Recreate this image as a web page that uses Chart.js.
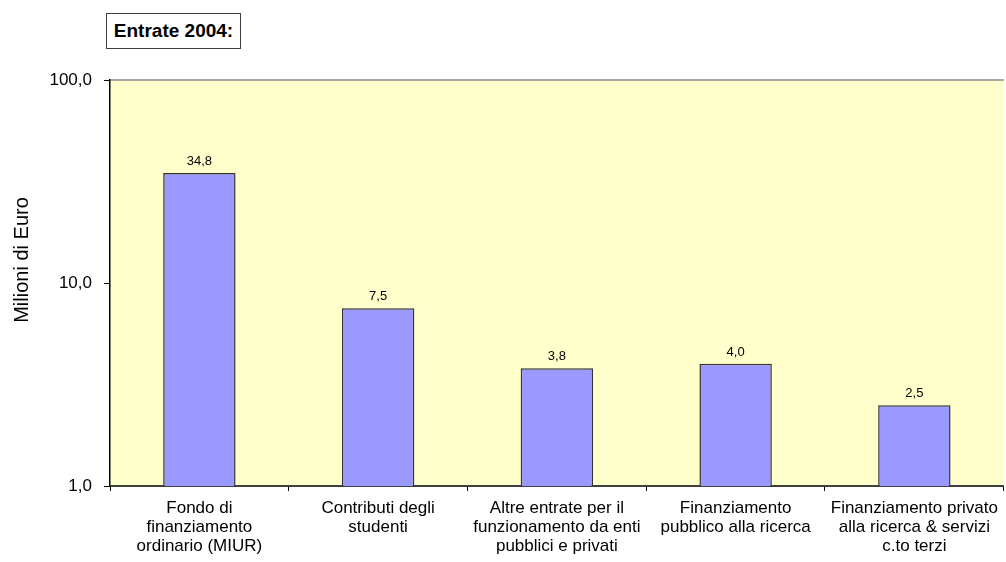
<!DOCTYPE html>
<html>
<head>
<meta charset="utf-8">
<script src="https://cdn.jsdelivr.net/npm/chart.js@4/dist/chart.umd.min.js"></script>
<style>
  html, body { margin: 0; padding: 0; background: #ffffff; }
  #wrap { position: relative; width: 1006px; height: 562px; }
  #chart { position: absolute; left: 0; top: 0; }
  #heading {
    position: absolute; left: 106px; top: 13px; width: 135px; height: 36px;
    border: 1px solid #404040; box-sizing: border-box; background: #fff;
    font: bold 19px "Liberation Sans", Arial, sans-serif; color: #000;
    display: flex; align-items: center; justify-content: center;
  }
</style>
</head>
<body>
<div id="wrap">
  <canvas id="chart" width="1006" height="562"></canvas>
  <div id="heading">Entrate 2004:</div>
</div>
<script>
// Revenue categories (multi-line axis labels)
const categories = [
  ["Fondo di", "finanziamento", "ordinario (MIUR)"],
  ["Contributi degli", "studenti"],
  ["Altre entrate per il", "funzionamento da enti", "pubblici e privati"],
  ["Finanziamento", "pubblico alla ricerca"],
  ["Finanziamento privato", "alla ricerca & servizi", "c.to terzi"]
];
// Revenues in millions of euro
const revenues = [34.8, 7.5, 3.8, 4.0, 2.5];
// Log-scale tick values on the y axis
const yTicks = [1, 10, 100];
const yTitle = "Milioni di Euro";

const FONT = '"Liberation Sans", Arial, sans-serif';
const fmt = v => v.toFixed(1).replace('.', ',');

// Plot background, top border line and rotated y-axis title
const plotFrame = {
  id: 'plotFrame',
  beforeDraw(chart) {
    const { ctx, chartArea: a } = chart;
    ctx.save();
    ctx.fillStyle = '#FFFFCC';
    ctx.fillRect(a.left, a.top, a.right - a.left, a.bottom - a.top);
    ctx.strokeStyle = '#A8A8A0';
    ctx.lineWidth = 2;
    ctx.beginPath();
    ctx.moveTo(a.left, a.top);
    ctx.lineTo(a.right, a.top);
    ctx.stroke();
    ctx.restore();
  },
  afterDraw(chart) {
    const { ctx, chartArea: a } = chart;
    ctx.save();
    ctx.translate(22, (a.top + a.bottom) / 2 - 23);
    ctx.rotate(-Math.PI / 2);
    ctx.font = '20px ' + FONT;
    ctx.fillStyle = '#000';
    ctx.textAlign = 'center';
    ctx.textBaseline = 'middle';
    ctx.fillText(yTitle, 0, 0);
    ctx.restore();
  }
};

// Value labels above each bar
const valueLabels = {
  id: 'valueLabels',
  afterDatasetsDraw(chart) {
    const { ctx } = chart;
    const meta = chart.getDatasetMeta(0);
    const data = chart.data.datasets[0].data;
    ctx.save();
    ctx.font = '13px ' + FONT;
    ctx.fillStyle = '#000';
    ctx.textAlign = 'center';
    ctx.textBaseline = 'bottom';
    meta.data.forEach((bar, i) => {
      ctx.fillText(fmt(data[i]), bar.x, bar.y - 5);
    });
    ctx.restore();
  }
};

new Chart(document.getElementById('chart'), {
  type: 'bar',
  data: {
    labels: categories,
    datasets: [{
      data: revenues,
      backgroundColor: '#9999FF',
      borderColor: '#333333',
      borderWidth: 1.5,
      borderSkipped: 'bottom',
      categoryPercentage: 1,
      barPercentage: 0.405
    }]
  },
  options: {
    responsive: false,
    animation: false,
    layout: { padding: { left: 0, top: 80, right: 0, bottom: 0 } },
    plugins: {
      legend: { display: false },
      tooltip: { enabled: false },
      title: { display: false }
    },
    scales: {
      x: {
        grid: {
          offset: true,
          drawOnChartArea: false,
          drawTicks: true,
          tickLength: 5,
          color: '#000'
        },
        border: { display: true, color: '#404040', width: 2 },
        ticks: {
          font: { family: FONT, size: 17, lineHeight: 1.12 },
          color: '#000',
          padding: 8,
          maxRotation: 0,
          autoSkip: false
        },
        afterFit(scale) { scale.height = 76; }
      },
      y: {
        type: 'logarithmic',
        min: 1,
        max: 100,
        afterBuildTicks(scale) {
          scale.ticks = yTicks.map(v => ({ value: v }));
        },
        grid: {
          drawOnChartArea: false,
          drawTicks: true,
          tickLength: 6,
          color: '#000'
        },
        border: { display: true, color: '#000', width: 1.5 },
        ticks: {
          font: { family: FONT, size: 17 },
          color: '#000',
          padding: 12,
          callback: v => fmt(v)
        },
        afterFit(scale) { scale.width = 110; }
      }
    }
  },
  plugins: [plotFrame, valueLabels]
});
</script>
</body>
</html>
